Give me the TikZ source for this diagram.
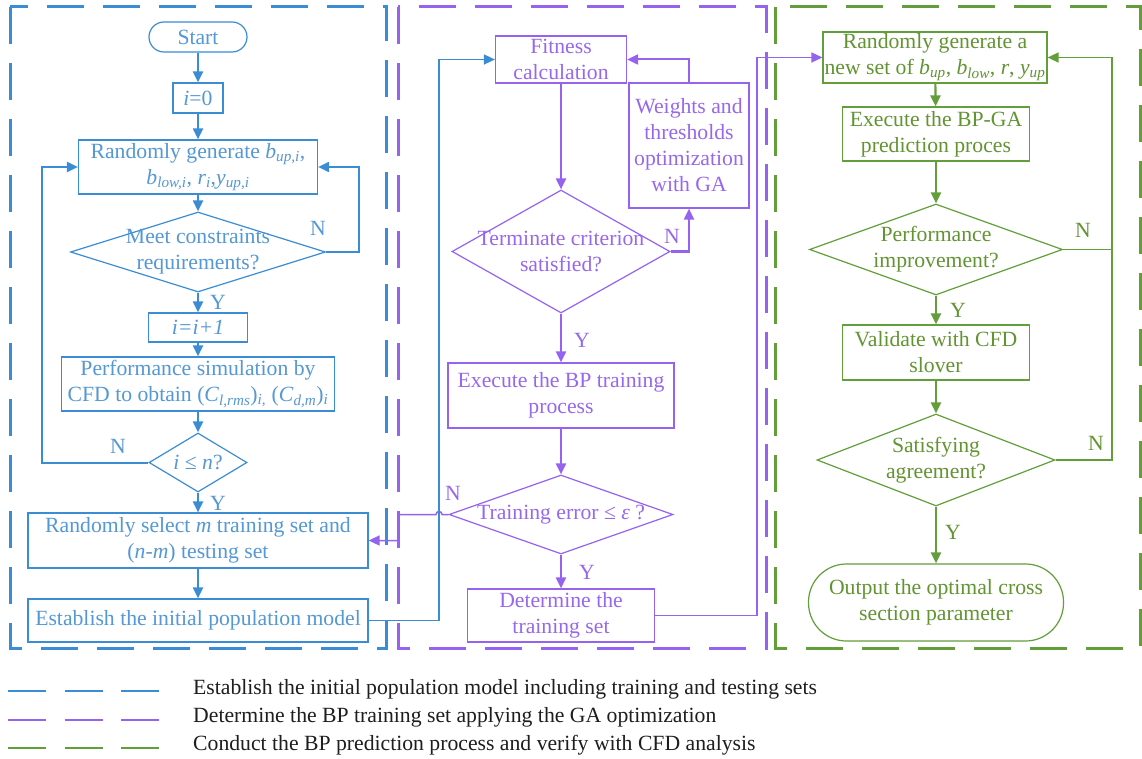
\documentclass[tikz,border=0pt]{standalone}
\usepackage{fontspec}
\setmainfont{Liberation Serif}
\usetikzlibrary{arrows.meta,shapes.geometric}
\definecolor{cb}{RGB}{58,141,212}
\definecolor{cbt}{RGB}{84,152,212}
\definecolor{cp}{RGB}{150,98,240}
\definecolor{cpt}{RGB}{152,104,236}
\definecolor{cg}{RGB}{98,158,58}
\definecolor{cgt}{RGB}{98,148,50}
\definecolor{legt}{RGB}{30,30,30}
\newcommand{\dfont}{\fontsize{21.7}{26}\selectfont}
\newcommand{\isub}[2]{\textit{#1}\textsubscript{\textit{#2}}}
\tikzset{
  bx/.style={draw, line width=1.2pt, inner sep=0pt, align=center, font=\dfont},
  bbox/.style={bx, draw=cb, text=cbt},
  pbox/.style={bx, draw=cp, text=cpt},
  gbox/.style={bx, draw=cg, text=cgt},
  dia/.style={diamond, draw, line width=1.2pt, inner sep=0pt},
  bdia/.style={dia, draw=cb},
  pdia/.style={dia, draw=cp},
  gdia/.style={dia, draw=cg},
  tip/.style={-{Triangle[length=11pt,width=10pt]}},
  barrow/.style={draw=cb, line width=2pt, tip},
  parrow/.style={draw=cp, line width=2pt, tip},
  garrow/.style={draw=cg, line width=2.2pt, tip},
  lab/.style={font=\dfont, inner sep=0pt},
  region/.style={line width=3pt, dash pattern=on 37pt off 19pt},
  legdash/.style={line width=2.5pt, dash pattern=on 38pt off 18.5pt},
  legtext/.style={anchor=west, font=\fontsize{21.7}{26}\selectfont, text=legt, inner sep=0pt}
}
\begin{document}
\begin{tikzpicture}[x=1pt,y=-1pt]
\useasboundingbox (0,0) rectangle (1142,759);
\fill[white] (0,0) rectangle (1142,759);

% region borders
\draw[region, cb] (10,7) rectangle (386,648);
\draw[region, cp] (398,7) rectangle (766,648);
\draw[region, cg] (775,7) rectangle (1140,648);

% ---------- blue column ----------
\node[bbox, rounded corners=15pt, minimum width=98pt, minimum height=30pt] (start) at (198,37) {Start};
\node[bbox, minimum width=50pt, minimum height=30pt] (i0) at (198,98) {\textit{i}=0};
\node[bbox, minimum width=239pt, minimum height=54pt] (gen) at (198,167)
  {Randomly generate \isub{b}{up,i},\\ \isub{b}{low,i}, \isub{r}{i},\isub{y}{up,i}};
\node[bdia, minimum width=255pt, minimum height=80pt,
  label={[lab, text=cbt, align=center]center:{Meet constraints\\requirements?}}] (meet) at (198,252) {};
\node[bbox, minimum width=99pt, minimum height=29pt] (inc) at (198,327.5) {\textit{i=i+1}};
\node[bbox, minimum width=273pt, minimum height=54pt] (perf) at (198,384)
  {Performance simulation by\\ CFD to obtain (\isub{C}{l,rms})\textsubscript{\textit{i},} (\isub{C}{d,m})\textsubscript{\textit{i}}};
\node[bdia, minimum width=98pt, minimum height=59pt,
  label={[lab, text=cbt]center:{\textit{i} ≤ \textit{n}?}}] (iln) at (198,462.5) {};
\node[bbox, minimum width=340pt, minimum height=55pt] (sel) at (198,540.5)
  {Randomly select \textit{m} training set and\\ (\textit{n-m}) testing set};
\node[bbox, minimum width=340pt, minimum height=43pt] (est) at (198,620.5)
  {Establish the initial population model};

\draw[barrow] (start) -- (i0);
\draw[barrow] (i0) -- (gen);
\draw[barrow] (gen) -- (meet);
\draw[barrow] (meet) -- (inc);
\draw[barrow] (inc) -- (perf);
\draw[barrow] (perf) -- (iln);
\draw[barrow] (iln) -- (sel);
\draw[barrow] (sel) -- (est);
\draw[barrow] (meet.east) -- (359,252) |- (gen.east);
\draw[barrow] (iln.west) -- (42,462.5) |- (gen.west);
\node[lab, text=cbt] (n1) at (318,228) {N};
\node[lab, text=cbt] (y1) at (218,302) {Y};
\node[lab, text=cbt] (n2) at (118,446) {N};
\node[lab, text=cbt] (y2) at (218,503) {Y};

% ---------- purple column ----------
\node[pbox, minimum width=131pt, minimum height=47pt] (fit) at (561,59.5) {Fitness\\calculation};
\node[pbox, minimum width=120pt, minimum height=125pt] (wt) at (689,145.5)
  {Weights and\\thresholds\\optimization\\with GA};
\node[pdia, minimum width=218pt, minimum height=123pt,
  label={[lab, text=cpt, align=center]center:{Terminate criterion\\satisfied?}}] (term) at (561,251.5) {};
\node[pbox, minimum width=226pt, minimum height=65pt] (exe) at (561,395.5)
  {Execute the BP training\\process};
\node[pdia, minimum width=224pt, minimum height=79pt,
  label={[lab, text=cpt]center:{Training error ≤ \textit{ε} ?}}] (terr) at (561,514.5) {};
\node[pbox, minimum width=187pt, minimum height=53pt] (det) at (561,615.5)
  {Determine the\\training set};

\draw[parrow] (fit) -- (term);
\draw[parrow] (term.east) -| (wt.south);
\draw[parrow] (wt.north) |- (fit.east);
\draw[parrow] (term) -- (exe);
\draw[parrow] (exe) -- (terr);
\draw[parrow] (terr) -- (det);
\draw[draw=cp, line width=1.5pt, tip] (terr.west) -- (442,514.5)
  arc[start angle=0, end angle=-180, radius=3] -- (398.5,514.5) -- (398.5,540.5) -- (sel.east);
\node[lab, text=cpt] (n3) at (672,236) {N};
\node[lab, text=cpt] (y3) at (582,340) {Y};
\node[lab, text=cpt] (n4) at (453,493) {N};
\node[lab, text=cpt] (y4) at (587,572) {Y};

% ---------- green column ----------
\node[gbox, minimum width=224pt, minimum height=51pt] (rnd) at (935,57.5)
  {Randomly generate a\\new set of \isub{b}{up}, \isub{b}{low}, \textit{r}, \isub{y}{up}};
\node[gbox, minimum width=187pt, minimum height=54pt] (bpga) at (936,134)
  {Execute the BP-GA\\prediction proces};
\node[gdia, minimum width=253pt, minimum height=91pt,
  label={[lab, text=cgt, align=center]center:{Performance\\improvement?}}] (perfi) at (936,249.5) {};
\node[gbox, minimum width=187pt, minimum height=55pt] (val) at (936,352.5)
  {Validate with CFD\\slover};
\node[gdia, minimum width=238pt, minimum height=92pt,
  label={[lab, text=cgt, align=center]center:{Satisfying\\agreement?}}] (sat) at (936,460) {};
\node[gbox, rounded corners=38pt, minimum width=255pt, minimum height=77pt] (out) at (936,602.5)
  {Output the optimal cross\\section parameter};

\draw[garrow] (rnd) -- (bpga);
\draw[garrow] (bpga) -- (perfi);
\draw[garrow] (perfi) -- (val);
\draw[garrow] (val) -- (sat);
\draw[garrow] (sat) -- (out);
\draw[draw=cg, line width=1.5pt, tip] (perfi.east) -- (1112,249.5) |- (rnd.east);
\draw[draw=cg, line width=1.5pt] (sat.east) -| (1112,249.5);
\node[lab, text=cgt] (n5) at (1083,230) {N};
\node[lab, text=cgt] (y5) at (958,310) {Y};
\node[lab, text=cgt] (n6) at (1096,443) {N};
\node[lab, text=cgt] (y6) at (953,532) {Y};

% ---------- cross-region connectors ----------
\draw[draw=cb, line width=1.5pt, tip] (est.east) -- (439,620.5) |- (fit.west);
\draw[draw=cp, line width=1.5pt, tip] (det.east) -- (757,615.5) |- (rnd.west);

% ---------- legend ----------
\draw[legdash, cb] (8,691) -- (160,691);
\draw[legdash, cp] (8,720) -- (160,720);
\draw[legdash, cg] (8,748) -- (160,748);
\node[legtext] (l1) at (193,689) {Establish the initial population model including training and testing sets};
\node[legtext] (l2) at (193,717) {Determine the BP training set applying the GA optimization};
\node[legtext] (l3) at (193,745) {Conduct the BP prediction process and verify with CFD analysis};
\end{tikzpicture}
\end{document}
